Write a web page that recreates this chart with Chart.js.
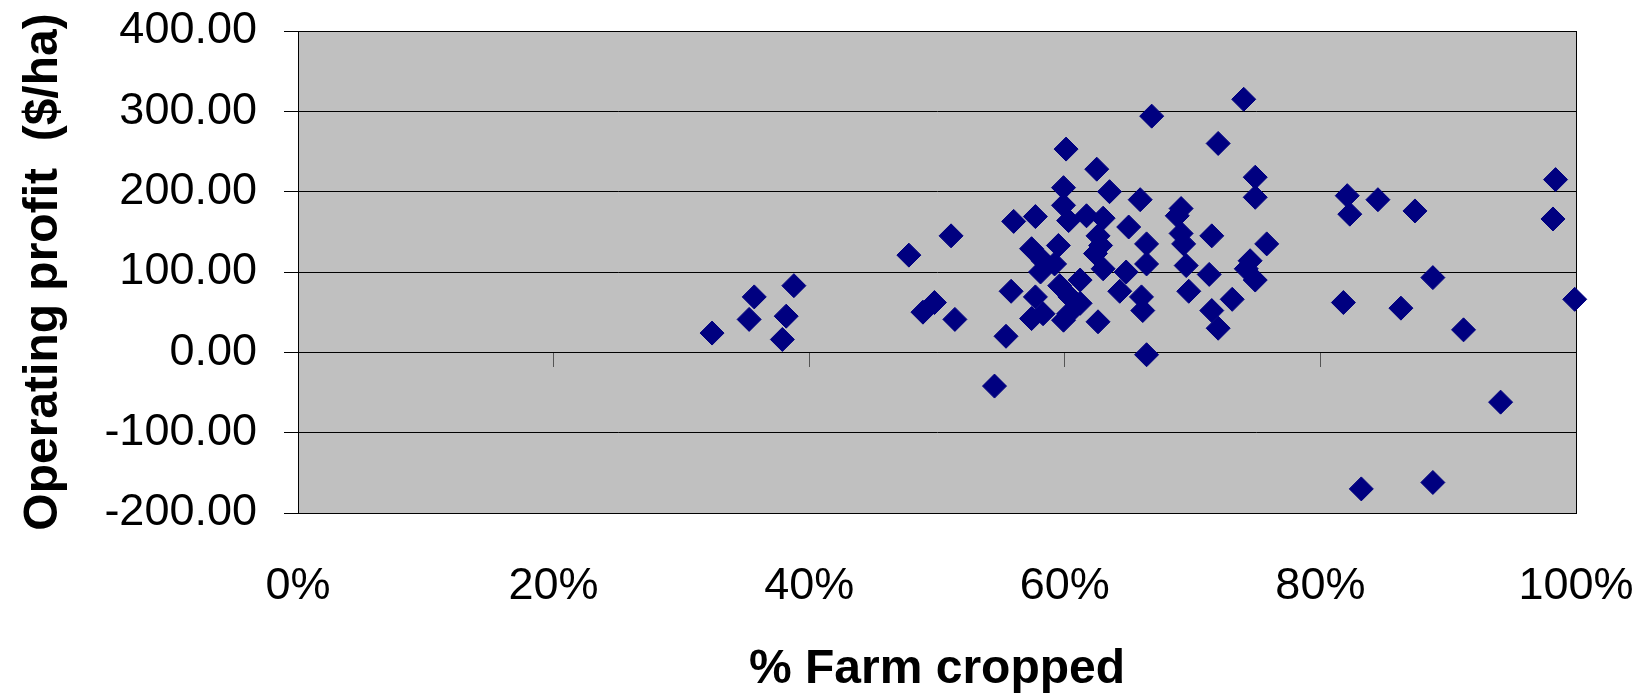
<!DOCTYPE html>
<html>
<head>
<meta charset="utf-8">
<script src="https://cdn.jsdelivr.net/npm/chart.js@4.4.1/dist/chart.umd.min.js"></script>
<style>
  body { margin: 0; background: #fff; }
</style>
</head>
<body>
<canvas id="farmChart" width="1641" height="694"></canvas>
<script>
// % of farm cropped (x) and operating profit $/ha (y), one entry per farm
var croppedPct = [
  32.4, 35.7, 35.3, 38.8, 38.2, 37.9, 47.8, 51.1, 48.9, 49.8, 51.4, 55.4, 54.5, 56.0, 55.8,
  66.8, 60.1, 62.5, 59.9, 63.5, 65.9, 57.7, 59.9, 60.3, 61.7, 63.0, 65.0, 62.6, 59.5, 57.4,
  66.4, 62.8, 62.4, 58.3, 59.2, 58.1, 63.0, 66.4, 64.8, 57.7, 59.6, 61.2, 60.4, 61.2, 64.3,
  66.0, 66.1, 57.4, 58.3, 59.9, 60.3, 62.6, 66.4,
  74.0, 72.0, 74.9, 74.9, 69.1, 68.8, 71.5, 69.1, 69.3, 75.8, 74.5, 74.2, 74.9, 69.5, 71.3,
  69.7, 73.1, 71.5, 72.0,
  98.4, 98.2, 82.1, 82.3, 84.5, 87.4, 88.8, 81.8, 86.3, 91.2, 99.9, 94.1, 83.2, 88.8
];
var profit = [
  24, 69, 41, 83, 45, 16, 121, 145, 50, 62, 41, 20, -42, 163, 76,
  294, 253, 228, 205, 200, 190, 169, 183, 164, 170, 167, 156, 145, 133, 129,
  135, 133, 123, 114, 110, 100, 104, 110, 100, 69, 83, 90, 69, 61, 76,
  69, 52, 42, 48, 40, 48, 38, -3,
  315, 260, 218, 193, 179, 170, 145, 148, 135, 135, 114, 104, 90, 108, 97,
  76, 66, 52, 30,
  215, 166, 195, 172, 190, 176, 93, 62, 55, 28, 66, -62, -170, -162
];
var xTicks = [0, 20, 40, 60, 80, 100];
var yTicks = [-200, -100, 0, 100, 200, 300, 400];

var points = croppedPct.map(function (x, i) { return { x: x, y: profit[i] }; });

var fontFamily = "'Liberation Sans', Arial, sans-serif";

// grey plot area with a dark frame, like the old spreadsheet chart
var plotArea = {
  id: 'plotArea',
  beforeDraw: function (chart) {
    var a = chart.chartArea, ctx = chart.ctx;
    ctx.save();
    ctx.fillStyle = '#c0c0c0';
    ctx.fillRect(a.left, a.top, a.right - a.left, a.bottom - a.top);
    ctx.restore();
  },
  beforeDatasetsDraw: function (chart) {
    var a = chart.chartArea, ctx = chart.ctx;
    ctx.save();
    ctx.strokeStyle = '#000';
    ctx.lineWidth = 1;
    ctx.strokeRect(Math.round(a.left) + 0.5, Math.round(a.top) + 0.5,
      Math.round(a.right - a.left), Math.round(a.bottom - a.top));
    ctx.restore();
  }
};

// labels are allowed to hang over the margins, so drop the extra padding
function noEdgePadding(scale) {
  scale.paddingTop = 0;
  scale.paddingBottom = 0;
  scale.paddingLeft = 0;
  scale.paddingRight = 0;
}

var ctx = document.getElementById('farmChart').getContext('2d');
var chart = new Chart(ctx, {
  type: 'scatter',
  data: {
    datasets: [{
      label: 'Farms',
      data: points,
      pointStyle: 'rectRot',
      pointRadius: 12,
      pointHoverRadius: 12,
      borderWidth: 1,
      backgroundColor: '#000080',
      borderColor: '#000080',
      clip: false
    }]
  },
  options: {
    responsive: false,
    animation: false,
    layout: { padding: { top: 31, right: 65, left: 0, bottom: 0 } },
    plugins: {
      legend: { display: false },
      tooltip: { enabled: false }
    },
    scales: {
      x: {
        type: 'linear',
        position: 'bottom',
        min: 0,
        max: 100,
        afterBuildTicks: function (scale) {
          scale.ticks = xTicks.map(function (v) { return { value: v }; });
        },
        afterFit: function (scale) { scale.height = 181; noEdgePadding(scale); },
        grid: { display: false },
        border: { display: false },
        ticks: {
          color: '#000',
          padding: 39,
          maxRotation: 0,
          font: { family: fontFamily, size: 45 },
          callback: function (v) { return v + '%'; }
        },
        title: {
          display: true,
          text: '% Farm cropped',
          color: '#000',
          padding: 0,
          font: { family: fontFamily, size: 48, weight: 'bold', lineHeight: 1 }
        }
      },
      xZero: {
        type: 'linear',
        axis: 'x',
        position: { y: 0 },
        min: 0,
        max: 100,
        afterBuildTicks: function (scale) {
          scale.ticks = xTicks.map(function (v) { return { value: v }; });
        },
        afterFit: noEdgePadding,
        grid: { drawOnChartArea: false, drawTicks: true, tickLength: 14, color: '#555', tickColor: '#555' },
        border: { display: true, color: '#000' },
        ticks: { display: false }
      },
      y: {
        type: 'linear',
        min: -200,
        max: 400,
        afterBuildTicks: function (scale) {
          scale.ticks = yTicks.map(function (v) { return { value: v }; });
        },
        afterFit: function (scale) { scale.width = 298; noEdgePadding(scale); },
        grid: { color: '#000', tickColor: '#000', tickLength: 14, lineWidth: 1 },
        border: { display: true, color: '#000' },
        ticks: {
          color: '#000',
          padding: 27,
          font: { family: fontFamily, size: 45 },
          callback: function (v) { return v.toFixed(2); }
        },
        title: {
          display: true,
          text: 'Operating profit  ($/ha)',
          color: '#000',
          padding: { top: 15, bottom: 0 },
          font: { family: fontFamily, size: 48, weight: 'bold' }
        }
      }
    }
  },
  plugins: [plotArea]
});
</script>
</body>
</html>
